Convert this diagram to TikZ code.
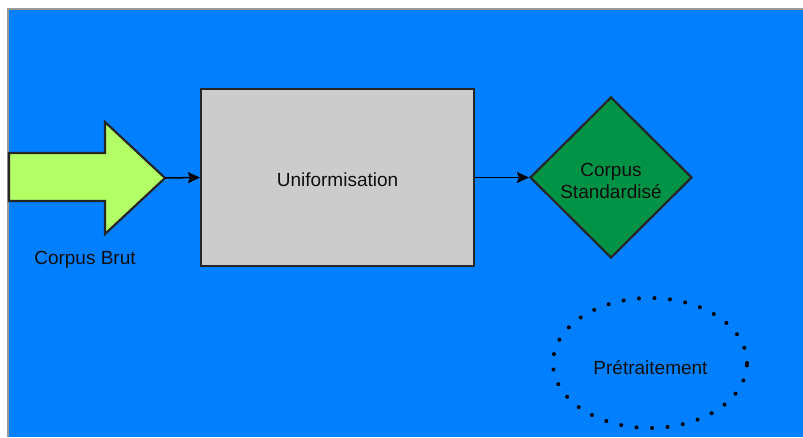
\documentclass[tikz,border=0pt]{standalone}
\usepackage{fontspec}
\setmainfont{Liberation Sans}
\usetikzlibrary{shapes.geometric,arrows.meta}
\definecolor{bgblue}{RGB}{0,127,255}
\definecolor{lime}{RGB}{179,255,102}
\definecolor{deepgreen}{RGB}{0,146,69}
\definecolor{boxgrey}{RGB}{204,204,204}
\definecolor{inkc}{RGB}{15,15,15}
\tikzset{
  lbl/.style={font=\fontsize{19}{22.5}\selectfont, text=inkc, align=center},
  blockbox/.style={draw=black!85, line width=2.2pt, fill=boxgrey, minimum width=273pt, minimum height=177pt, inner sep=0pt},
  resultdiamond/.style={draw=black!85, line width=2.2pt, fill=deepgreen, diamond, minimum width=162pt, minimum height=161pt, inner sep=0pt, aspect=1},
  inputarrow/.style={draw=black!85, line width=2.2pt, fill=lime, line join=miter},
  groupring/.style={draw=black, line width=4pt, line cap=round, dash pattern=on 0pt off 15.5pt, ellipse, minimum width=194pt, minimum height=130pt, inner sep=0pt},
  link/.style={draw=black, line width=1.5pt, -{Stealth[length=12pt,width=11pt,inset=2pt]}}
}
\begin{document}
\begin{tikzpicture}[x=1pt,y=-1pt]
  % page and canvas
  \useasboundingbox (0,0) rectangle (803,437);
  \fill[white] (0,0) rectangle (803,437);
  \fill[bgblue] (8,9) rectangle (803,437);
  \draw[black!40, line width=1.2pt] (8,437) -- (8,9) -- (803,9);

  % raw corpus entering the pipeline
  \draw[inputarrow] (9,153) -- (105,153) -- (105,122) -- (165,178) -- (105,234) -- (105,201) -- (9,201) -- cycle;
  \coordinate (brut) at (165,178);
  \node[lbl] (brutlabel) at (85,259.5) {Corpus Brut};

  % processing step
  \node[blockbox] (unif) at (337.5,177.5) {};
  \node[lbl] (uniflabel) at (337.5,180) {Uniformisation};

  % output
  \node[resultdiamond] (std) at (611,177.5) {};
  \node[lbl] (stdlabel) at (611,181) {Corpus\\Standardisé};

  % stage grouping label
  \node[groupring] (pre) at (650,363) {};
  \node[lbl] (prelabel) at (650.5,367.5) {Prétraitement};

  % flow
  \draw[link] (brut) -- (unif.west);
  \draw[link] (unif.east) -- (std.west);
\end{tikzpicture}
\end{document}
